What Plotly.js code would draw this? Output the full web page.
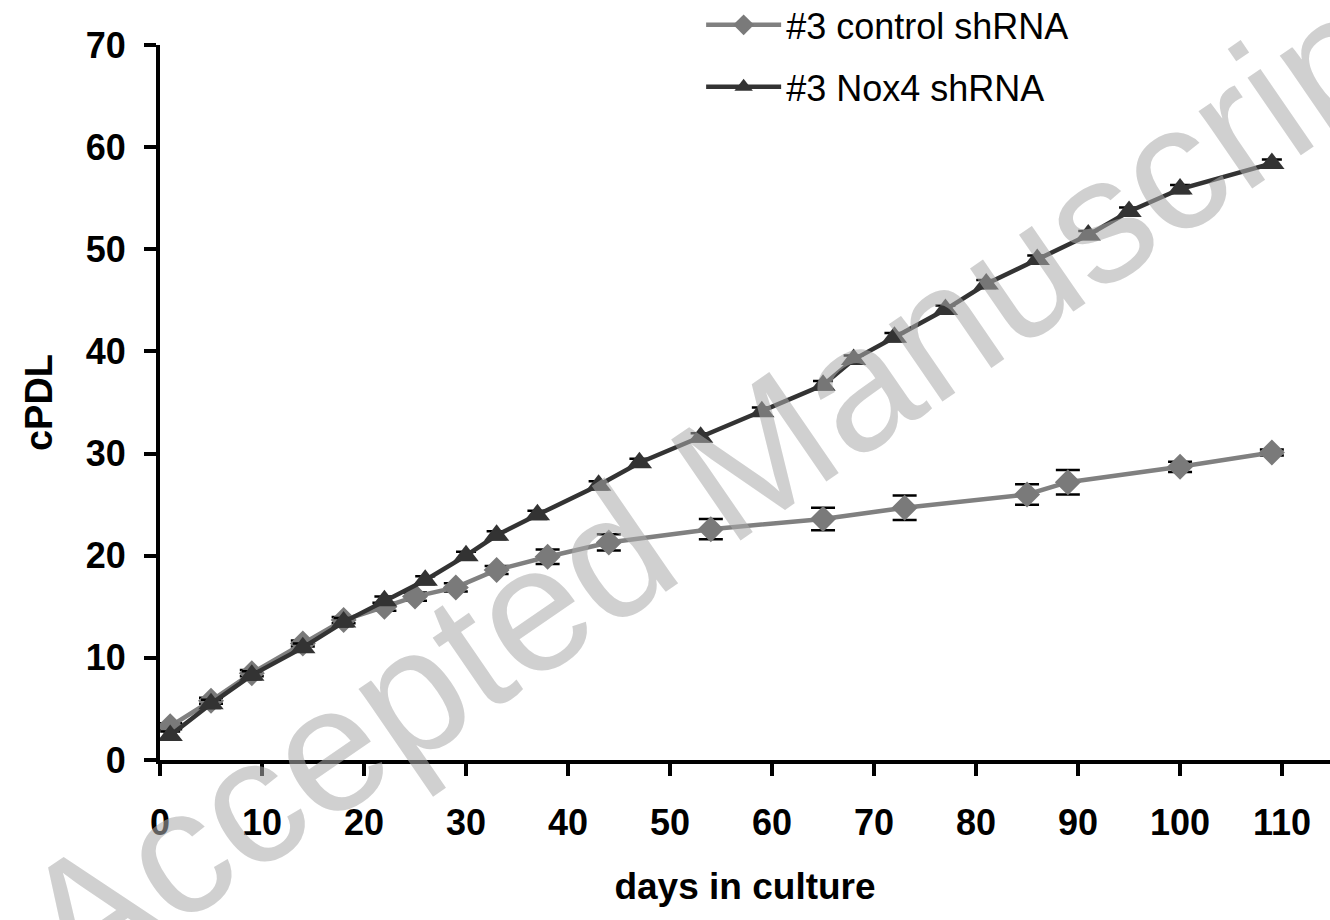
<!DOCTYPE html>
<html>
<head>
<meta charset="utf-8">
<script src="https://cdn.plot.ly/plotly-3.0.1.min.js"></script>
<style>html,body{margin:0;padding:0;background:#fff;}#chart{width:1330px;height:920px;}</style>
</head>
<body>
<div id="chart"></div>
<script>
// Data
const controlDays = [1, 5, 9, 14, 18, 22, 25, 29, 33, 38, 44, 54, 65, 73, 85, 89, 100, 109];
const controlPDL  = [3.3, 5.8, 8.5, 11.4, 13.7, 15.0, 16.0, 16.9, 18.6, 19.9, 21.3, 22.6, 23.6, 24.7, 26.0, 27.2, 28.7, 30.1];
const controlErr  = [0.3, 0.3, 0.3, 0.3, 0.3, 0.4, 0.4, 0.4, 0.4, 0.7, 0.8, 1.0, 1.1, 1.2, 1.0, 1.2, 0.5, 0.3];

const noxDays = [1, 5, 9, 14, 18, 22, 26, 30, 33, 37, 43, 47, 53, 59, 65, 68, 72, 77, 81, 86, 91, 95, 100, 109];
const noxPDL  = [2.4, 5.5, 8.3, 11.0, 13.5, 15.6, 17.6, 20.0, 22.0, 24.0, 26.9, 29.1, 31.6, 34.1, 36.7, 39.2, 41.4, 44.1, 46.6, 49.0, 51.4, 53.7, 55.9, 58.4];
const noxErr  = [0.4, 0.4, 0.4, 0.4, 0.4, 0.4, 0.4, 0.4, 0.4, 0.4, 0.4, 0.4, 0.4, 0.4, 0.4, 0.4, 0.4, 0.4, 0.4, 0.4, 0.4, 0.4, 0.4, 0.4];

const seriesNames = ['#3 control shRNA', '#3 Nox4 shRNA'];
const xTicks = [0, 10, 20, 30, 40, 50, 60, 70, 80, 90, 100, 110];
const yTicks = [0, 10, 20, 30, 40, 50, 60, 70];
const xTitle = 'days in culture';
const yTitle = 'cPDL';
const watermark = 'Accepted Manuscript';

const FONT = 'Liberation Sans, Arial, sans-serif';

const traces = [
  {
    x: controlDays, y: controlPDL, name: seriesNames[0], type: 'scatter', mode: 'lines+markers',
    legendgroup: 'a',
    line: {color: '#808080', width: 4.5},
    marker: {symbol: 'diamond', size: 20, color: '#7a7a7a'},
    error_y: {type: 'data', array: controlErr, visible: true, color: '#000', thickness: 2.5, width: 12},
    cliponaxis: false
  },
  {
    x: noxDays, y: noxPDL, name: seriesNames[1], type: 'scatter', mode: 'lines+markers',
    legendgroup: 'b',
    line: {color: '#333333', width: 4.5},
    marker: {symbol: 'triangle-up', size: 22, color: '#333333'},
    error_y: {type: 'data', array: noxErr, visible: true, color: '#000', thickness: 2.5, width: 10},
    cliponaxis: false
  }
];

const layout = {
  width: 1330, height: 920,
  paper_bgcolor: '#fff', plot_bgcolor: '#fff',
  margin: {l: 160, r: 0, t: 45, b: 160, autoexpand: false},
  showlegend: true,
  legend: {
    x: 0.4625, y: 1.07, xanchor: 'left', yanchor: 'top',
    font: {family: FONT, size: 36, color: '#000'},
    bgcolor: 'rgba(0,0,0,0)', traceorder: 'grouped', tracegroupgap: 12,
    itemwidth: 75
  },
  xaxis: {
    range: [0, 114.7], tickvals: xTicks, ticktext: xTicks.map(String),
    showgrid: false, zeroline: false, showline: true, linecolor: '#000', linewidth: 4,
    ticks: 'outside', ticklen: 12, tickwidth: 4, tickcolor: '#000',
    ticklabelstandoff: 16,
    tickfont: {family: FONT, size: 36, color: '#000', weight: 'bold'},
    title: {text: xTitle, standoff: 32, font: {family: FONT, size: 37, color: '#000', weight: 'bold'}},
    automargin: false
  },
  yaxis: {
    range: [0, 70], tickvals: yTicks, ticktext: yTicks.map(String),
    showgrid: false, zeroline: false, showline: true, linecolor: '#000', linewidth: 4,
    ticks: 'outside', ticklen: 12, tickwidth: 4, tickcolor: '#000',
    ticklabelstandoff: 11,
    tickfont: {family: FONT, size: 36, color: '#000', weight: 'bold'},
    title: {text: yTitle, standoff: 22, font: {family: FONT, size: 38, color: '#000', weight: 'bold'}},
    automargin: false
  },
  annotations: [{
    text: watermark, xref: 'paper', yref: 'paper', x: 0.484, y: 0.398,
    xanchor: 'center', yanchor: 'middle', showarrow: false, textangle: -34.5,
    font: {family: FONT, size: 178, color: 'rgba(172,172,172,0.56)'}
  }]
};

Plotly.newPlot('chart', traces, layout, {displayModeBar: false, staticPlot: true});
</script>
</body>
</html>
